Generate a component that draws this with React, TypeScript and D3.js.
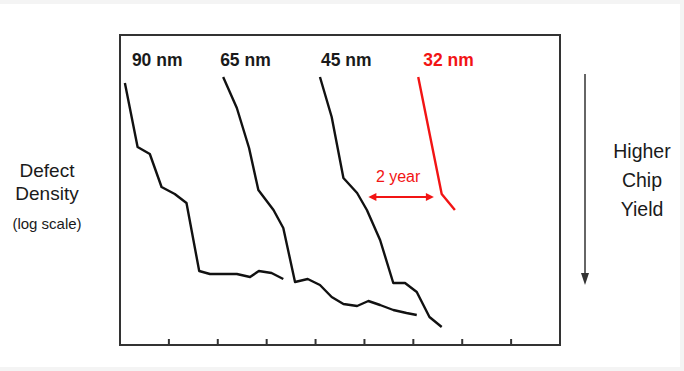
import * as d3 from "d3";

// x: years from the left edge of the plot, y: log10 of defect density (relative)
const nodeLabels = ["90 nm", "65 nm", "45 nm", "32 nm"];
const nodeColors = ["#111", "#111", "#111", "#f21414"];

const years90 = [0.10, 0.36, 0.61, 0.85, 1.12, 1.36, 1.62, 1.84, 2.39, 2.66, 2.84, 3.10, 3.34];
const density90 = [2.62, 1.98, 1.91, 1.58, 1.51, 1.42, 0.74, 0.71, 0.71, 0.68, 0.74, 0.72, 0.66];

const years65 = [2.11, 2.39, 2.64, 2.83, 3.14, 3.34, 3.58, 3.84, 4.09, 4.33, 4.57, 4.85, 5.08, 5.32, 5.59, 5.86, 6.07];
const density65 = [2.68, 2.37, 1.97, 1.55, 1.35, 1.17, 0.63, 0.66, 0.60, 0.48, 0.41, 0.39, 0.44, 0.40, 0.35, 0.32, 0.30];

const years45 = [4.09, 4.33, 4.57, 4.85, 5.05, 5.32, 5.59, 5.83, 6.07, 6.33, 6.58];
const density45 = [2.68, 2.28, 1.67, 1.52, 1.35, 1.05, 0.62, 0.62, 0.53, 0.28, 0.18];

const years32 = [6.10, 6.58, 6.85];
const density32 = [2.68, 1.51, 1.35];

const xTicks = [1, 2, 3, 4, 5, 6, 7, 8];

// "2 year" gap annotation
const gapFrom = 5.08;
const gapTo = 6.42;
const gapLevel = 1.48;
const gapLabel = "2 year";

const W = 684;
const H = 371;
const box = { left: 120, top: 35, right: 560, bottom: 345 };
const FONT = "'Liberation Sans', Arial, Helvetica, sans-serif";
// nudge of each node label relative to the start of its curve (px)
const labelNudge = [7, -3, 1, 5];

export default function App() {
  const x = d3.scaleLinear().domain([0, 9]).range([box.left, box.right]);
  const y = d3.scaleLinear().domain([0, 3.1]).range([box.bottom, box.top]);

  const series = [
    [years90, density90],
    [years65, density65],
    [years45, density45],
    [years32, density32],
  ];

  const line = d3
    .line<[number, number]>()
    .x((d) => x(d[0]))
    .y((d) => y(d[1]));

  const red = nodeColors[3];
  const ax1 = x(gapFrom);
  const ax2 = x(gapTo);
  const ay = y(gapLevel);

  return (
    <div style={{ position: "absolute", left: 0, top: 0 }}>
      <svg width={W} height={H} style={{ display: "block", fontFamily: FONT }}>
        <rect x={0} y={0} width={W} height={H} fill="#f4f4f4" />
        <rect x={0} y={4} width={680} height={363} fill="#fff" />

        {/* plot frame */}
        <rect
          x={box.left}
          y={box.top}
          width={box.right - box.left}
          height={box.bottom - box.top}
          fill="none"
          stroke="#333"
          strokeWidth={2}
        />
        {xTicks.map((t) => (
          <line
            key={t}
            x1={x(t)}
            x2={x(t)}
            y1={box.bottom}
            y2={box.bottom - 6}
            stroke="#333"
            strokeWidth={2}
          />
        ))}

        {series.map(([xs, ys], i) => {
          const pts = xs.map((v, j) => [v, ys[j]] as [number, number]);
          return (
            <g key={nodeLabels[i]}>
              <path
                d={line(pts) || ""}
                fill="none"
                stroke={nodeColors[i]}
                strokeWidth={2.4}
                strokeLinejoin="round"
              />
              <text
                x={x(xs[0]) + labelNudge[i]}
                y={66}
                fontSize={17.5}
                fontWeight="bold"
                fill={i === 3 ? red : "#1a1a1a"}
              >
                {nodeLabels[i]}
              </text>
            </g>
          );
        })}

        {/* 2 year gap arrow */}
        <line x1={ax1 + 6} x2={ax2 - 6} y1={ay} y2={ay} stroke={red} strokeWidth={2} />
        <path d={`M${ax1},${ay} L${ax1 + 8},${ay - 4} L${ax1 + 8},${ay + 4} Z`} fill={red} />
        <path d={`M${ax2},${ay} L${ax2 - 8},${ay - 4} L${ax2 - 8},${ay + 4} Z`} fill={red} />
        <text x={(ax1 + ax2) / 2 - 3} y={182} textAnchor="middle" fontSize={16} fill={red}>
          {gapLabel}
        </text>

        {/* left label */}
        <g fill="#1a1a1a" textAnchor="middle">
          <text x={47} y={177} fontSize={19}>Defect</text>
          <text x={47} y={200} fontSize={19}>Density</text>
          <text x={47} y={229} fontSize={15}>(log scale)</text>
        </g>

        {/* right annotation */}
        <line x1={585} x2={585} y1={74} y2={276} stroke="#666" strokeWidth={2} />
        <path d="M581,273 L589,273 L585,285 Z" fill="#333" />
        <g fill="#1a1a1a" textAnchor="middle">
          <text x={642} y={158} fontSize={19.5}>Higher</text>
          <text x={642} y={187} fontSize={19.5}>Chip</text>
          <text x={642} y={216} fontSize={19.5}>Yield</text>
        </g>
      </svg>
    </div>
  );
}
